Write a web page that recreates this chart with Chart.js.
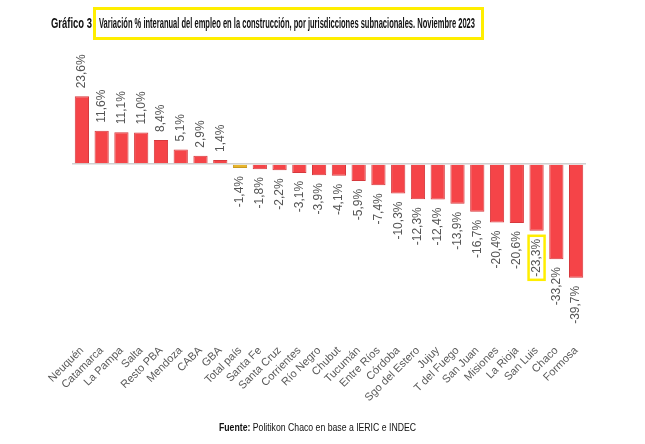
<!DOCTYPE html>
<html>
<head>
<meta charset="utf-8">
<script src="https://cdn.jsdelivr.net/npm/chart.js@4.4.0/dist/chart.umd.min.js"></script>
<style>
    body { margin: 0; background: #fff; }
    #wrap { position: relative; width: 645px; height: 444px; font-family: "Liberation Sans", Arial, sans-serif; }
    #chart { position: absolute; left: 0; top: 0; }
    .fit { position: absolute; white-space: nowrap; transform-origin: 0 50%; color: #111; }
    #titleLabel { left: 51px; top: 15px; font-weight: bold; font-size: 14px; }
    #titleBox {
        position: absolute; left: 93px; top: 7px; width: 391px; height: 33px;
        box-sizing: border-box; border: 3px solid #ffee00;
    }
    #titleText { left: 99px; top: 15px; font-weight: bold; font-size: 14px; }
    #source { left: 219px; top: 421px; font-size: 10.5px; }
</style>
</head>
<body>
<div id="wrap">
    <canvas id="chart" width="645" height="444"></canvas>
    <div id="titleBox"></div>
    <span class="fit" id="titleLabel" data-w="41">Gráfico 3</span>
    <span class="fit" id="titleText" data-w="376">Variación % interanual del empleo en la construcción, por jurisdicciones subnacionales. Noviembre 2023</span>
    <span class="fit" id="source" data-w="197"><b>Fuente:</b> Politikon Chaco en base a IERIC e INDEC</span>
</div>
<script>
// Categories and values (% interannual change)
const jurisdicciones = [
    'Neuquén', 'Catamarca', 'La Pampa', 'Salta', 'Resto PBA', 'Mendoza', 'CABA', 'GBA',
    'Total país', 'Santa Fe', 'Santa Cruz', 'Corrientes', 'Río Negro', 'Chubut', 'Tucumán',
    'Entre Ríos', 'Córdoba', 'Sgo del Estero', 'Jujuy', 'T del Fuego', 'San Juan', 'Misiones',
    'La Rioja', 'San Luis', 'Chaco', 'Formosa'
];
const variacion = [
    23.6, 11.6, 11.1, 11.0, 8.4, 5.1, 2.9, 1.4,
    -1.4, -1.8, -2.2, -3.1, -3.9, -4.1, -5.9,
    -7.4, -10.3, -12.3, -12.4, -13.9, -16.7, -20.4,
    -20.6, -23.3, -33.2, -39.7
];
const highlighted = ['San Luis']; // label boxed in yellow

const barColors = jurisdicciones.map(j => j === 'Total país' ? '#e8b52c' : '#f54448');
const borderColors = jurisdicciones.map(j => j === 'Total país' ? '#c99a20' : '#d6393d');

// Narrow font is not installed, so squeeze the text spans to the reference widths
document.querySelectorAll('.fit').forEach(el => {
    const target = parseFloat(el.dataset.w);
    const k = target / el.getBoundingClientRect().width;
    el.style.transform = `scaleX(${k})`;
});

function fmt(v) {
    return v.toFixed(1).replace('.', ',') + '%';
}

// Draws the rotated value labels and the yellow highlight box
const valueLabels = {
    id: 'valueLabels',
    afterDatasetsDraw(chart) {
        const ctx = chart.ctx;
        const meta = chart.getDatasetMeta(0);
        ctx.save();
        ctx.font = '12px "Liberation Sans", Arial, sans-serif';
        ctx.fillStyle = '#555';
        ctx.textBaseline = 'middle';
        meta.data.forEach((bar, i) => {
            const v = variacion[i];
            const txt = fmt(v);
            const w = ctx.measureText(txt).width;
            ctx.save();
            if (v >= 0) {
                ctx.translate(bar.x, bar.y - 8);
                ctx.rotate(-Math.PI / 2);
                ctx.textAlign = 'left';
                ctx.fillText(txt, 0, 0);
            } else {
                ctx.translate(bar.x, bar.y + 8);
                ctx.rotate(-Math.PI / 2);
                ctx.textAlign = 'right';
                ctx.fillText(txt, 0, 0);
                if (highlighted.includes(jurisdicciones[i])) {
                    ctx.strokeStyle = '#ffee00';
                    ctx.lineWidth = 2.5;
                    ctx.strokeRect(-w - 3, -8, w + 6, 16);
                }
            }
            ctx.restore();
        });
        ctx.restore();
    }
};

new Chart(document.getElementById('chart'), {
    type: 'bar',
    data: {
        labels: jurisdicciones,
        datasets: [{
            data: variacion,
            backgroundColor: barColors,
            borderColor: borderColors,
            borderWidth: 1,
            barPercentage: 0.9,
            categoryPercentage: 0.8
        }]
    },
    options: {
        responsive: false,
        animation: false,
        layout: { padding: { top: 78, left: 72, right: 59, bottom: 0 } },
        plugins: {
            legend: { display: false },
            tooltip: { enabled: false }
        },
        scales: {
            x: {
                grid: { display: false },
                border: { display: false },
                ticks: {
                    color: '#595959',
                    font: { family: '"Liberation Sans", Arial, sans-serif', size: 11 },
                    minRotation: 45,
                    maxRotation: 45,
                    autoSkip: false,
                    padding: 0
                },
                afterFit(scale) { scale.height = 108; }
            },
            y: {
                min: -60,
                max: 30,
                ticks: { display: false, stepSize: 10 },
                border: { display: false },
                grid: {
                    drawTicks: false,
                    color: c => c.tick.value === 0 ? '#d0d0d0' : 'transparent',
                    lineWidth: 1.5
                },
                afterFit(scale) { scale.width = 0; }
            }
        }
    },
    plugins: [valueLabels]
});
</script>
</body>
</html>
